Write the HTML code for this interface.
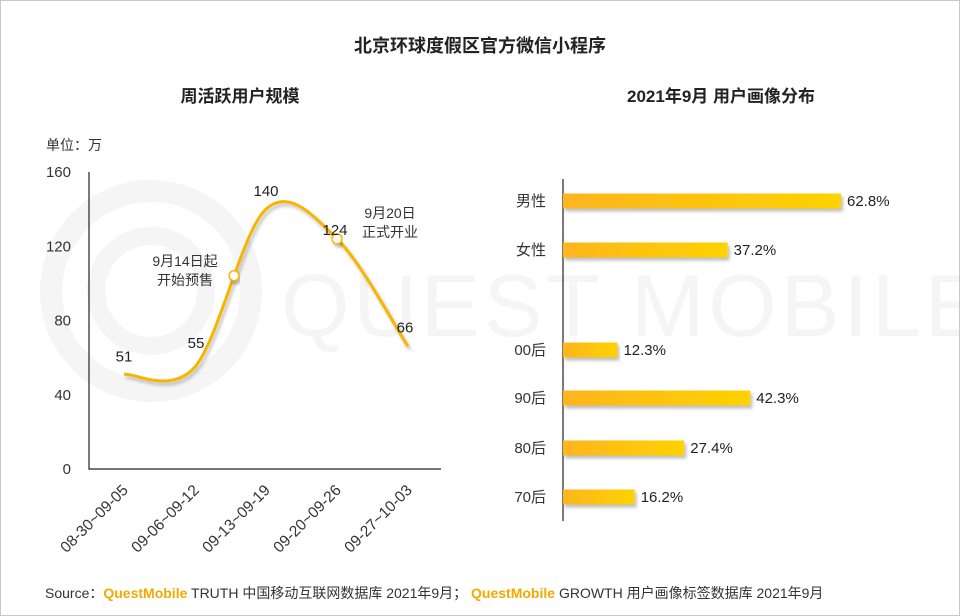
<!DOCTYPE html>
<html><head><meta charset="utf-8"><style>
body{margin:0;background:#fff}
#wrap{position:relative;width:958px;height:614px;border:1px solid #c8c8c8;overflow:hidden;font-family:"Liberation Sans","Noto Sans CJK SC",sans-serif}
text{font-family:"Liberation Sans","Noto Sans CJK SC",sans-serif}
</style></head><body>
<div id="wrap">
<svg id="svg" width="958" height="614">
<defs>
<linearGradient id="bg" x1="0" x2="1"><stop offset="0" stop-color="#fdb51d"/><stop offset="1" stop-color="#ffd200"/></linearGradient>
<filter id="sh" x="-5%" y="-30%" width="110%" height="180%"><feDropShadow dx="2" dy="3" stdDeviation="1.5" flood-color="#000" flood-opacity="0.25"/></filter>
</defs>
<g fill="none" stroke="#f5f5f5">
<circle cx="150" cy="290" r="100" stroke-width="22"/>
<circle cx="150" cy="290" r="55" stroke-width="18"/>
<text x="280" y="335" font-size="88" fill="#f5f5f5" stroke="none" letter-spacing="4">QUEST MOBILE</text>
</g>
<text x="479" y="51" text-anchor="middle" font-size="18" font-weight="bold" fill="#222">北京环球度假区官方微信小程序</text>
<text x="239" y="101" text-anchor="middle" font-size="17" font-weight="bold" fill="#222">周活跃用户规模</text>
<text x="720" y="101" text-anchor="middle" font-size="17" font-weight="bold" fill="#222">2021年9月 用户画像分布</text>
<text x="45" y="149" font-size="14" fill="#333">单位：万</text>
<g id="left"></g>
<g id="right"></g>
<text x="44" y="597" font-size="14" fill="#333">Source：<tspan fill="#f5a800" font-weight="bold">QuestMobile</tspan> TRUTH 中国移动互联网数据库 2021年9月； <tspan fill="#f5a800" font-weight="bold">QuestMobile</tspan> GROWTH 用户画像标签数据库 2021年9月</text>
</svg>
</div>
<script>
const weeks=["08-30~09-05","09-06~09-12","09-13~09-19","09-20~09-26","09-27~10-03"];
const users=[51,55,140,124,66];
const yTicks=[0,40,80,120,160];
const barCats=["男性","女性","00后","90后","80后","70后"];
const barVals=[62.8,37.2,12.3,42.3,27.4,16.2];
const barLabels=["62.8%","37.2%","12.3%","42.3%","27.4%","16.2%"];
const NS="http://www.w3.org/2000/svg";
function mk(t,a,p){const e=document.createElementNS(NS,t);for(const k in a)e.setAttribute(k,a[k]);p.appendChild(e);return e;}
const L=document.getElementById('left');
const x0=88,y0=468,yTop=171;
const xs=i=>123+i*71;
const ys=v=>y0-(v/160)*(y0-yTop);
let a=mk('path',{d:`M${x0} ${yTop}V${y0}H440`,stroke:'#222',fill:'none','stroke-width':1.2},L);

yTicks.forEach(v=>{const t=mk('text',{x:70,y:ys(v)+5,'text-anchor':'end','font-size':15,fill:'#333'},L);t.textContent=v;
});
weeks.forEach((w,i)=>{const x=xs(i)+5,y=490;const t=mk('text',{x:x,y:y,'text-anchor':'end','font-size':15.5,fill:'#333',transform:`rotate(-45 ${x} ${y})`},L);t.textContent=w;
});
const P=users.map((v,i)=>[xs(i),ys(v)]);
let d=`M${P[0][0]} ${P[0][1]}`;const segs=[];
for(let i=0;i<P.length-1;i++){const p0=P[Math.max(0,i-1)],p1=P[i],p2=P[i+1],p3=P[Math.min(P.length-1,i+2)];
const c1=[p1[0]+(p2[0]-p0[0])/6,p1[1]+(p2[1]-p0[1])/6],c2=[p2[0]-(p3[0]-p1[0])/6,p2[1]-(p3[1]-p1[1])/6];
segs.push([p1,c1,c2,p2]);d+=` C${c1[0]} ${c1[1]} ${c2[0]} ${c2[1]} ${p2[0]} ${p2[1]}`;}
const ln=mk('path',{d:d,stroke:'#f7b500','stroke-width':3,fill:'none',filter:'url(#sh)'},L);

function bz(s,t){const u=1-t;return [0,1].map(k=>u*u*u*s[0][k]+3*u*u*t*s[1][k]+3*u*t*t*s[2][k]+t*t*t*s[3][k]);}
[[1,0.55],[3,0]].forEach(([si,t])=>{const q=bz(segs[si]||segs[segs.length-1],t);
const c=mk('circle',{cx:q[0],cy:q[1],r:5,fill:'#fff',stroke:'#f7b500','stroke-width':1.5,filter:'url(#sh)'},L);
});
users.forEach((v,i)=>{const t=mk('text',{x:xs(i)+[0,1,0,-2,-3][i],y:ys(v)-[13,19,13,4,14][i],'text-anchor':'middle','font-size':15,fill:'#222'},L);t.textContent=v;
});
[["9月14日起",184,265],["开始预售",184,284],["9月20日",389,217],["正式开业",389,236]].forEach(([s,x,y])=>{const t=mk('text',{x:x,y:y,'text-anchor':'middle','font-size':14,fill:'#333'},L);t.textContent=s;
});
const R=document.getElementById('right');
const bx=562,pxPer=278/62.8,bh=15;
const barY=[200,249,349,397,447,496];
let ax=mk('line',{x1:bx,x2:bx,y1:178,y2:520,stroke:'#222','stroke-width':1.2},R);

barCats.forEach((c,i)=>{const y=barY[i];
const r=mk('rect',{x:bx,y:y-bh/2,width:barVals[i]*pxPer,height:bh,fill:'url(#bg)',filter:'url(#sh)'},R);

const t=mk('text',{x:545,y:y+5,'text-anchor':'end','font-size':15,fill:'#333'},R);t.textContent=c;

const v=mk('text',{x:bx+barVals[i]*pxPer+6,y:y+5,'font-size':15,fill:'#222'},R);v.textContent=barLabels[i];
});
</script>
</body></html>
